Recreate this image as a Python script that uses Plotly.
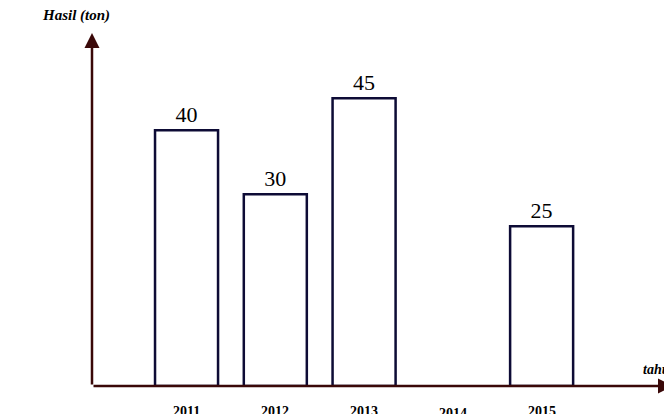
import plotly.graph_objects as go

years = ["2011", "2012", "2013", "2014", "2015"]
values = [40, 30, 45, None, 25]
value_labels = ["40", "30", "45", "", "25"]

xs = list(range(len(years)))
font = "Liberation Serif"
fig = go.Figure()
fig.add_bar(x=[x for x, v in zip(xs, values) if v is not None],
            y=[v for v in values if v is not None],
            width=0.71, marker=dict(color="white", line=dict(color="#0d0b35", width=2.5)),
            text=[t for t in value_labels if t], textposition="outside",
            textfont=dict(family=font, size=22, color="black"), cliponaxis=False)

ann = []
for i, y in enumerate(years):
    ann.append(dict(x=i, y=-0.045 if y != "2014" else -0.05, xref="x", yref="paper",
                    text="<b>%s</b>" % y, showarrow=False, yanchor="top",
                    font=dict(family=font, size=14, color="black")))
ac = "#3a0808"
ann.append(dict(x=1.0, y=0, ax=0, ay=0, xref="x domain", yref="y domain", axref="x domain", ayref="y domain",
                text="", showarrow=True, arrowhead=2, arrowsize=1.2, arrowwidth=2.5, arrowcolor=ac))
ann.append(dict(x=0, y=1.0, ax=0, ay=0, xref="x domain", yref="y domain", axref="x domain", ayref="y domain",
                text="", showarrow=True, arrowhead=2, arrowsize=1.2, arrowwidth=2.5, arrowcolor=ac))
ann.append(dict(x=-0.09, y=1.02, xref="paper", yref="paper", xanchor="left", yanchor="bottom",
                text="<b><i>Hasil (ton)</i></b>", showarrow=False, font=dict(family=font, size=15, color="black")))
ann.append(dict(x=1.01, y=0.02, xref="paper", yref="paper", xanchor="right", yanchor="bottom",
                text="<b><i>tahun</i></b>", showarrow=False, font=dict(family=font, size=14, color="black")))

fig.update_layout(width=672, height=414, margin=dict(l=84, r=7, t=25, b=36),
                  plot_bgcolor="white", paper_bgcolor="white", showlegend=False,
                  xaxis=dict(range=[-1.065, 5.48], visible=False),
                  yaxis=dict(range=[0, 55.2], visible=False),
                  annotations=ann)
fig.write_html("out.html")
